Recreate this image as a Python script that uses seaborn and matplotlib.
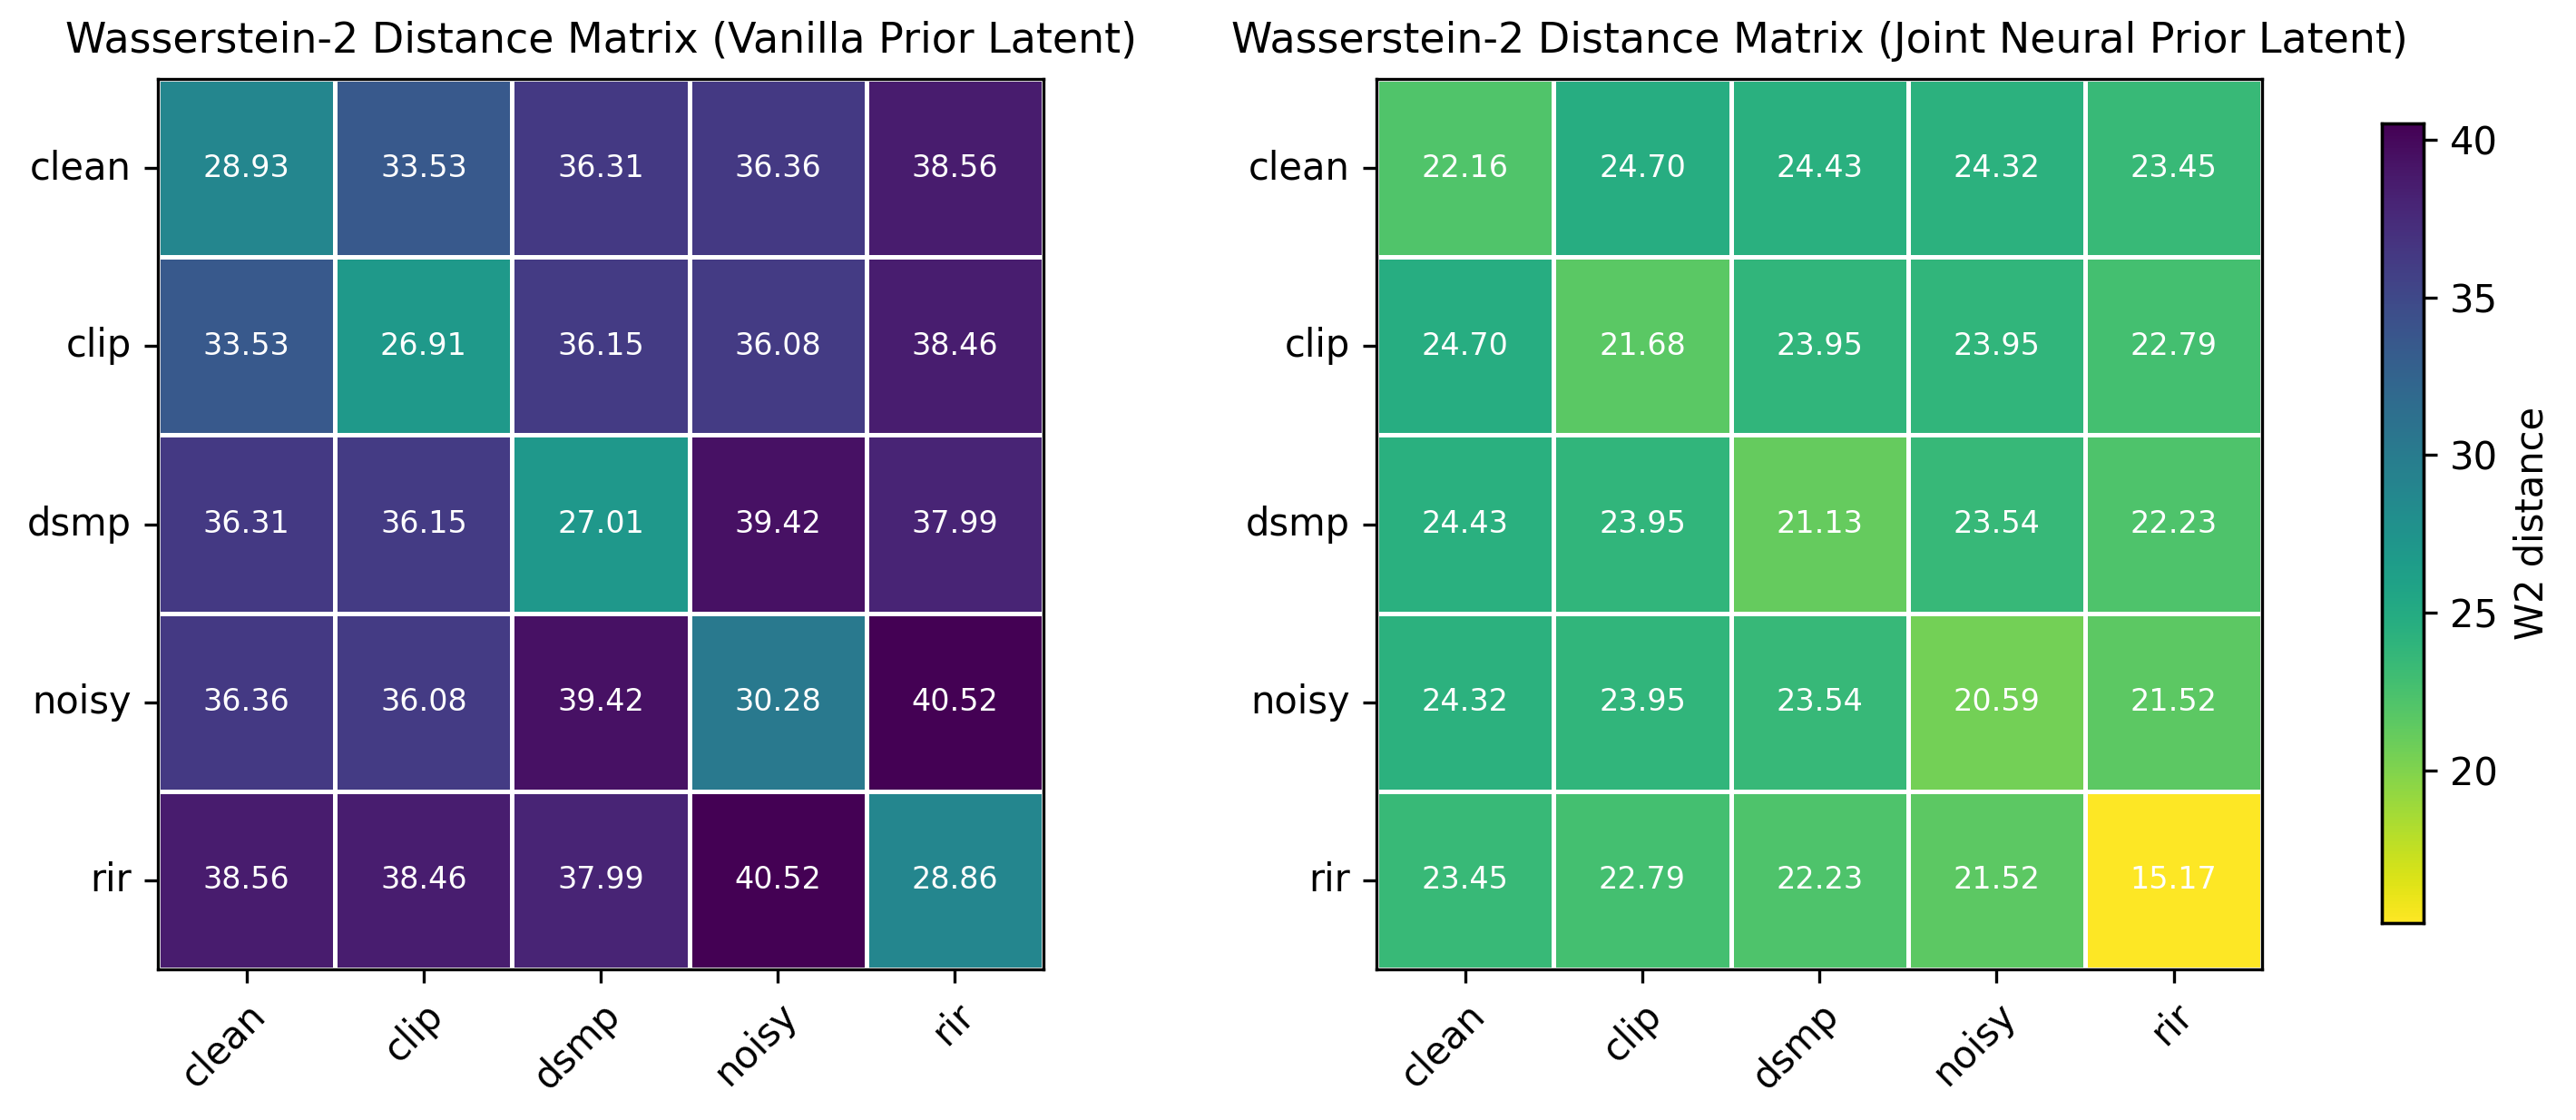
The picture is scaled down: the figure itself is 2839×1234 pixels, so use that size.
import matplotlib
matplotlib.use("Agg")
import matplotlib.pyplot as plt
import numpy as np
import pandas as pd
import seaborn as sns

#
# Data
#
labels = ["clean", "clip", "dsmp", "noisy", "rir"]

vanilla = [
    [28.93, 33.53, 36.31, 36.36, 38.56],
    [33.53, 26.91, 36.15, 36.08, 38.46],
    [36.31, 36.15, 27.01, 39.42, 37.99],
    [36.36, 36.08, 39.42, 30.28, 40.52],
    [38.56, 38.46, 37.99, 40.52, 28.86],
]

joint = [
    [22.16, 24.70, 24.43, 24.32, 23.45],
    [24.70, 21.68, 23.95, 23.95, 22.79],
    [24.43, 23.95, 21.13, 23.54, 22.23],
    [24.32, 23.95, 23.54, 20.59, 21.52],
    [23.45, 22.79, 22.23, 21.52, 15.17],
]

titles = [
    "Wasserstein-2 Distance Matrix (Vanilla Prior Latent)",
    "Wasserstein-2 Distance Matrix (Joint Neural Prior Latent)",
]

df_v = pd.DataFrame(vanilla, index=labels, columns=labels)
df_j = pd.DataFrame(joint, index=labels, columns=labels)
vmin = min(df_v.values.min(), df_j.values.min())
vmax = max(df_v.values.max(), df_j.values.max())

#
# Plot
#
plt.rcParams["font.family"] = ["DejaVu Sans"]
plt.rcParams["font.size"] = 10
fig = plt.figure(figsize=(2839 / 300, 1234 / 300), dpi=300)
ax1 = fig.add_axes([0.0613, 0.1345, 0.3438, 0.795])
ax2 = fig.add_axes([0.5344, 0.1345, 0.3438, 0.795])
cax = fig.add_axes([0.9246, 0.176, 0.0162, 0.714])

for ax, df, title, cb in [(ax1, df_v, titles[0], False), (ax2, df_j, titles[1], True)]:
    sns.heatmap(
        df, ax=ax, cmap="viridis_r", vmin=vmin, vmax=vmax,
        annot=True, fmt=".2f", annot_kws={"size": 8, "color": "white"},
        linewidths=0.8, linecolor="white", square=False,
        cbar=cb, cbar_ax=cax if cb else None,
        cbar_kws={"label": "W2 distance"} if cb else None,
    )
    for s in ax.spines.values():
        s.set_visible(True)
        s.set_linewidth(0.8)
        s.set_color("black")
    ax.set_title(title, fontsize=11, pad=7)
    ax.set_xticklabels(labels, rotation=45, ha="right", rotation_mode="anchor")
    ax.set_yticklabels(labels, rotation=0)
    ax.tick_params(length=3.5, width=0.8, labelsize=10)

cax.tick_params(length=3.5, width=0.8, labelsize=10)
cax.yaxis.label.set_size(10)
for s in cax.spines.values():
    s.set_visible(True)
    s.set_linewidth(0.8)

fig.savefig("out.png", dpi=300)
